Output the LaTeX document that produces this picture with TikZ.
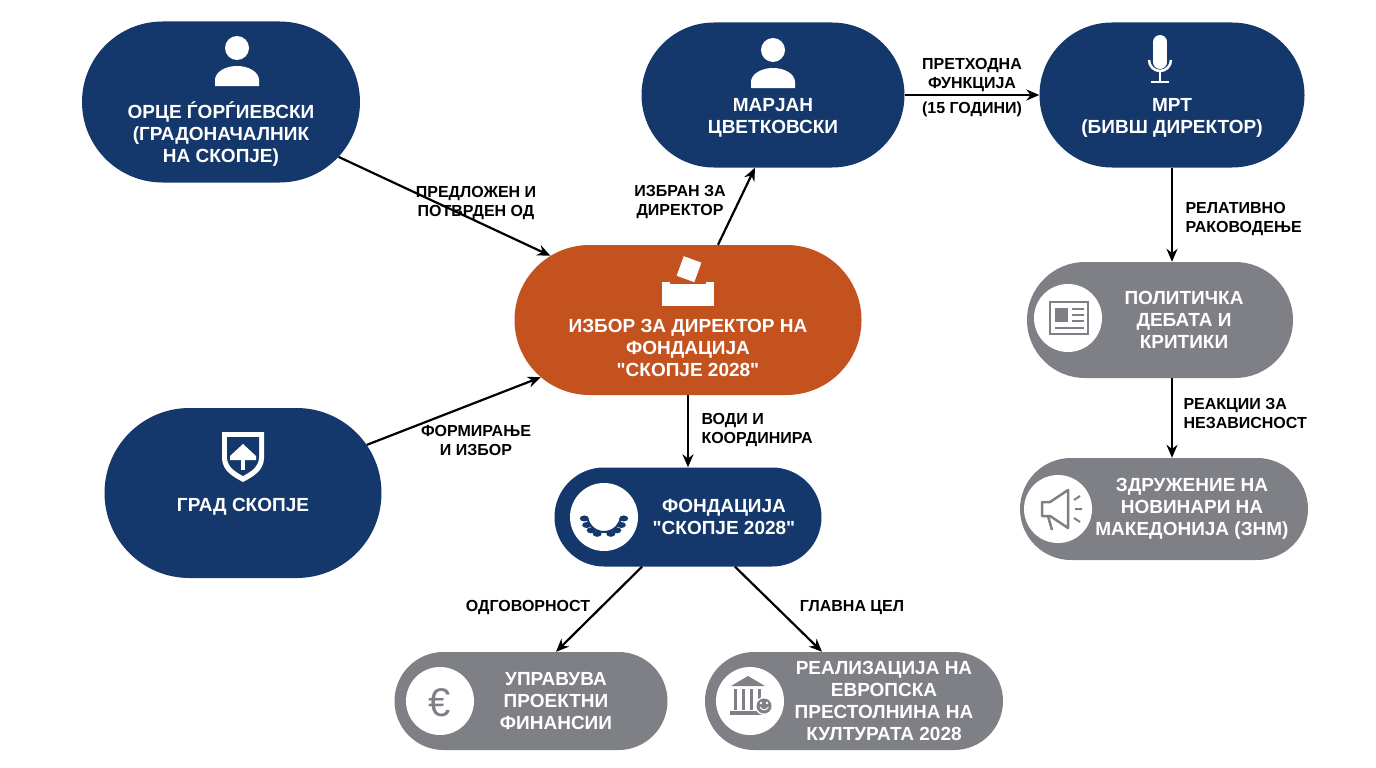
\documentclass[tikz,border=0pt]{standalone}
\usepackage{fontspec}
\setmainfont{Liberation Sans}[Ligatures=TeXOff]
\usetikzlibrary{shapes.misc,arrows.meta,calc}
\definecolor{navy}{HTML}{14386B}
\definecolor{orng}{HTML}{C4521F}
\definecolor{gry}{HTML}{7E8085}
\begin{document}
\begin{tikzpicture}[x=1pt,y=-1pt,
  box/.style={rounded rectangle,inner sep=0pt},
  nv/.style={box,fill=navy},
  gr/.style={box,fill=gry},
  txt/.style={text=white,font=\bfseries\fontsize{19}{22}\selectfont,align=center},
  lbl/.style={font=\bfseries\fontsize{16}{19}\selectfont,align=center,text=black},
  arr/.style={draw=black,line width=2.2pt,-{Stealth[length=13pt,width=11pt]}},
  wc/.style={circle,fill=white,minimum size=68pt,inner sep=0pt}]
\useasboundingbox (0,0) rectangle (1376,768);
\fill[white] (0,0) rectangle (1376,768);
% nodes
\node[nv,minimum width=278pt,minimum height=161pt] (orce) at (221,102) {};
\node[nv,minimum width=263pt,minimum height=145pt] (marjan) at (773,95) {};
\node[nv,minimum width=265pt,minimum height=145pt] (mrt) at (1172,95) {};
\node[box,fill=orng,minimum width=347pt,minimum height=150pt] (izbor) at (688,320) {};
\node[nv,minimum width=277pt,minimum height=170pt] (grad) at (243,493) {};
\node[nv,minimum width=267pt,minimum height=99pt] (fond) at (688,517) {};
\node[gr,minimum width=266pt,minimum height=116pt] (pol) at (1160,320) {};
\node[gr,minimum width=288pt,minimum height=102pt] (znm) at (1164,509) {};
\node[gr,minimum width=273pt,minimum height=98pt] (upr) at (531,701) {};
\node[gr,minimum width=298pt,minimum height=98pt] (real) at (854,701) {};
% texts
\node[txt] (t1) at (221,134) {ОРЦЕ ЃОРЃИЕВСКИ\\(ГРАДОНАЧАЛНИК\\НА СКОПЈЕ)};
\node[txt] (t2) at (773,118) {МАРЈАН\\ЦВЕТКОВСКИ};
\node[txt] (t3) at (1172,118) {МРТ\\(БИВШ ДИРЕКТОР)};
\node[txt] (t4) at (688,348) {ИЗБОР ЗА ДИРЕКТОР НА\\ФОНДАЦИЈА\\"СКОПЈЕ 2028"};
\node[txt] (t5) at (243,507) {ГРАД СКОПЈЕ};
\node[txt] (t6) at (724,517) {ФОНДАЦИЈА\\"СКОПЈЕ 2028"};
\node[txt] (t7) at (1184,320) {ПОЛИТИЧКА\\ДЕБАТА И\\КРИТИКИ};
\node[txt] (t8) at (1192,509) {ЗДРУЖЕНИЕ НА\\НОВИНАРИ НА\\МАКЕДОНИЈА (ЗНМ)};
\node[txt] (t9) at (556,701) {УПРАВУВА\\ПРОЕКТНИ\\ФИНАНСИИ};
\node[txt] (t10) at (884,701) {РЕАЛИЗАЦИЈА НА\\ЕВРОПСКА\\ПРЕСТОЛНИНА НА\\КУЛТУРАТА 2028};
% icons: persons
\foreach \cx/\cy in {237/48,773/50}{
  \fill[white] (\cx,\cy) circle (12);
  \fill[white] (\cx-22,\cy+38) -- (\cx-22,\cy+32) arc[start angle=180,end angle=360,x radius=22,y radius=14] -- (\cx+22,\cy+38) -- cycle;
}
% mic
\fill[white] (1153,42) rectangle (1167,62);
\fill[white] (1160,42) circle (7);
\fill[white] (1160,62) circle (7);
\draw[white,line width=2.5pt] (1149,60) arc[start angle=180,end angle=0,radius=11];
\draw[white,line width=2.5pt] (1160,72) -- (1160,82) (1151,82) -- (1169,82);
% ballot
\fill[white] (662,282) rectangle (714,306);
\fill[orng] (670,280) rectangle (706,284);
\fill[white,rotate around={-20:(688,272)}] (678,258) rectangle (698,280);
\draw[orng,line width=1pt,rotate around={-20:(688,272)}] (678,258) rectangle (698,280);
% shield
\fill[white] (222,432) -- (264,432) -- (264,458) .. controls (264,472) and (250,478) .. (243,482) .. controls (236,478) and (222,472) .. (222,458) -- cycle;
\fill[navy] (227,437) -- (259,437) -- (259,457) .. controls (259,468) and (248,473) .. (243,476) .. controls (238,473) and (227,468) .. (227,457) -- cycle;
\fill[white] (230,456) -- (243,444) -- (256,456) -- (256,460) -- (230,460) -- cycle;
\fill[white] (241,446) rectangle (245,470);
% laurel
\node[wc] (c6) at (604,517) {};
\foreach \a in {10,30,50,70,110,130,150,170}{
  \fill[navy] ($(604,515)+(\a:20)$) ellipse (4.5 and 3);}
\draw[navy,line width=2pt] (604,515) ++(15:17) arc[start angle=15,end angle=165,radius=17];
% newspaper
\node[wc] (c7) at (1068,318) {};
\draw[gry,line width=2.5pt] (1050,302) rectangle (1088,334);
\fill[gry] (1055,308) rectangle (1068,322);
\draw[gry,line width=2pt] (1072,309)--(1084,309) (1072,315)--(1084,315) (1072,321)--(1084,321) (1055,328)--(1084,328);
% megaphone
\node[wc] (c8) at (1058,509) {};
\draw[gry,line width=2.5pt,line join=round] (1042,502) -- (1050,502) -- (1068,490) -- (1068,528) -- (1050,516) -- (1042,516) -- cycle;
\draw[gry,line width=2.5pt] (1048,516) -- (1052,530);
\draw[gry,line width=2pt] (1074,500)--(1080,496) (1075,509)--(1082,509) (1074,518)--(1080,522);
% euro
\node[wc] (c9) at (440,701) {};
\node[text=gry,font=\fontsize{40}{40}\selectfont] (eur) at (440,703) {€};
% building + mask
\node[wc] (c10) at (750,701) {};
\fill[gry] (731,686) -- (748,676) -- (765,686) -- cycle;
\foreach \x in {734,742,750,758}{\fill[gry] (\x,689) rectangle (\x+3,710);}
\fill[gry] (730,711) rectangle (766,715);
\fill[white] (764,706) circle (9);
\fill[gry] (764,706) circle (7.5);
\fill[white] (761,703) circle (1.3) (767,703) circle (1.3);
\draw[white,line width=1pt] (760,707) arc[start angle=160,end angle=20,radius=4.5];
% edges
\draw[arr] (orce) -- (izbor);
\node[lbl] (l1) at (476,203) {ПРЕДЛОЖЕН И\\ПОТВРДЕН ОД};
\draw[arr] (grad) -- (izbor);
\node[lbl] (l2) at (476,440) {ФОРМИРАЊЕ\\И ИЗБОР};
\draw[arr] ([xshift=30pt]izbor.north) -- ([xshift=-18pt]marjan.south);
\node[lbl] (l3) at (680,202) {ИЗБРАН ЗА\\ДИРЕКТОР};
\draw[arr] (marjan) -- (mrt);
\node[lbl] (l4) at (972,88) {ПРЕТХОДНА\\ФУНКЦИЈА\\[6pt](15 ГОДИНИ)};
\draw[arr] (mrt.south) -- ([xshift=12pt]pol.north);
\node[lbl,align=left,anchor=west] (l5) at (1182,219) {РЕЛАТИВНО\\РАКОВОДЕЊЕ};
\draw[arr] ([xshift=12pt]pol.south) -- ([xshift=8pt]znm.north);
\node[lbl,align=left,anchor=west] (l6) at (1180,413) {РЕАКЦИИ ЗА\\НЕЗАВИСНОСТ};
\draw[arr] (izbor.south) -- (fond.north);
\node[lbl,align=left,anchor=west] (l7) at (698,430) {ВОДИ И\\КООРДИНИРА};
\draw[arr] ([xshift=-46pt]fond.south) -- ([xshift=25pt]upr.north);
\node[lbl] (l8) at (528,608) {ОДГОВОРНОСТ};
\draw[arr] ([xshift=47pt]fond.south) -- ([xshift=-32pt]real.north);
\node[lbl] (l9) at (852,608) {ГЛАВНА ЦЕЛ};
\end{tikzpicture}
\end{document}
